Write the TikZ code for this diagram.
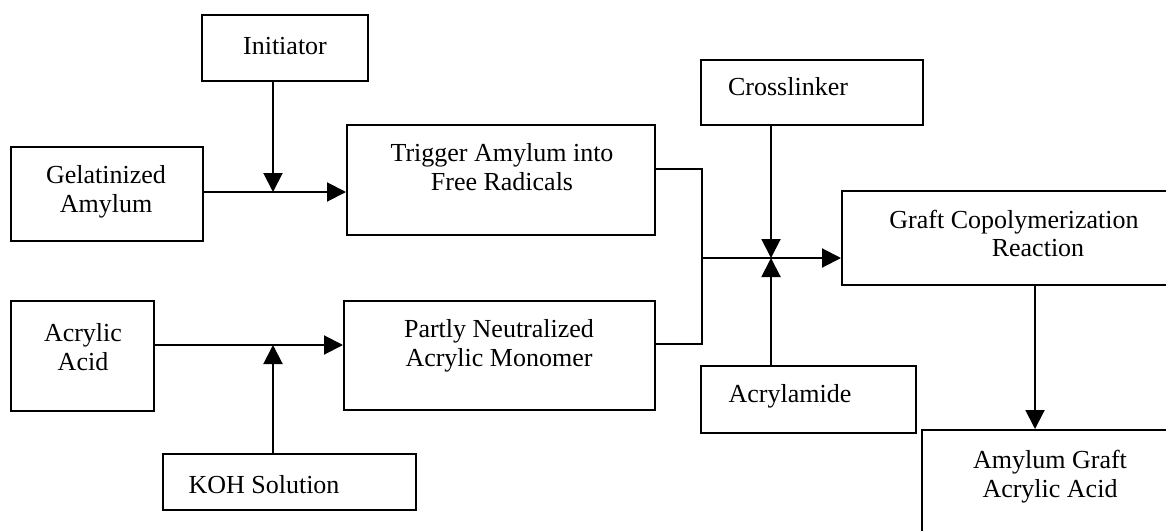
\documentclass[tikz,border=0pt]{standalone}
\usepackage{fontspec}
\setmainfont{Liberation Serif}
\usetikzlibrary{arrows.meta}
\begin{document}
\begin{tikzpicture}[x=0.5pt,y=-0.5pt,
  box/.style={draw, line width=1pt, inner sep=0pt, fill=none},
  txt/.style={inner sep=0pt, align=center, font=\fontsize{13}{14.25}\selectfont},
  conn/.style={line width=1pt},
  arr/.style={line width=1pt, -{Triangle[length=9.5pt,width=9.5pt]}}]
\useasboundingbox (0,0) rectangle (1166,530);
\begin{scope}
\clip (0,0) rectangle (1166,530);
% boxes
\node[box, minimum width=83pt, minimum height=33pt] (init) at (285,48) {};
\node[box, minimum width=96pt, minimum height=47pt] (gel) at (107,194) {};
\node[box, minimum width=154pt, minimum height=55pt] (trig) at (501,180) {};
\node[box, minimum width=111pt, minimum height=32.5pt] (cross) at (812,92.5) {};
\node[box, minimum width=189pt, minimum height=47pt] (graft) at (1031,238) {};
\node[box, minimum width=107.5pt, minimum height=33.5pt] (acr) at (808.5,399.5) {};
\node[box, minimum width=149pt, minimum height=75pt] (ag) at (1071,505) {};
\node[box, minimum width=71.5pt, minimum height=55pt] (aa) at (82.5,356) {};
\node[box, minimum width=126.5pt, minimum height=28pt] (koh) at (289.5,482) {};
\node[box, minimum width=155.5pt, minimum height=54.5pt] (pn) at (499.5,355.5) {};
% texts
\node[txt] (tinit) at (285,46) {Initiator};
\node[txt] (tgel) at (106,192) {Gelatinized\\Amylum};
\node[txt] (ttrig) at (502,167) {Trigger Amylum into\\Free Radicals};
\node[txt] (tcross) at (788,87) {Crosslinker};
\node[txt] (tgraft) at (1014,233.5) {Graft Copolymerization\\\hspace*{24pt}Reaction};
\node[txt] (tacr) at (790,396) {Acrylamide};
\node[txt] (tag) at (1050,476.5) {Amylum Graft\\Acrylic Acid};
\node[txt] (taa) at (83,347) {Acrylic\\Acid};
\node[txt] (tkoh) at (264,485) {KOH Solution};
\node[txt] (tpn) at (499,346) {Partly Neutralized\\Acrylic Monomer};
% junction coordinates
\coordinate (j1) at (273,192);
\coordinate (j2) at (273,345);
\coordinate (t1) at (702,169);
\coordinate (t2) at (702,344);
\coordinate (b) at (702,258);
\coordinate (m) at (771,258);
\coordinate (oc) at (1035,300);
% connectors
\draw[arr] (gel.east |- j1) -- (trig.west |- j1);
\draw[arr] (init.south -| j1) -- (j1);
\draw[arr] (aa.east |- j2) -- (pn.west |- j2);
\draw[arr] (koh.north -| j2) -- (j2);
\draw[conn] (trig.east |- t1) -- (t1) -- (t2) -- (pn.east |- t2);
\draw[arr] (b) -- (graft.west |- b);
\draw[arr] (cross.south -| m) -- (m);
\draw[arr] (acr.north -| m) -- (m);
\draw[arr] (graft.south -| oc) -- (ag.north -| oc);
\end{scope}
\end{tikzpicture}
\end{document}
